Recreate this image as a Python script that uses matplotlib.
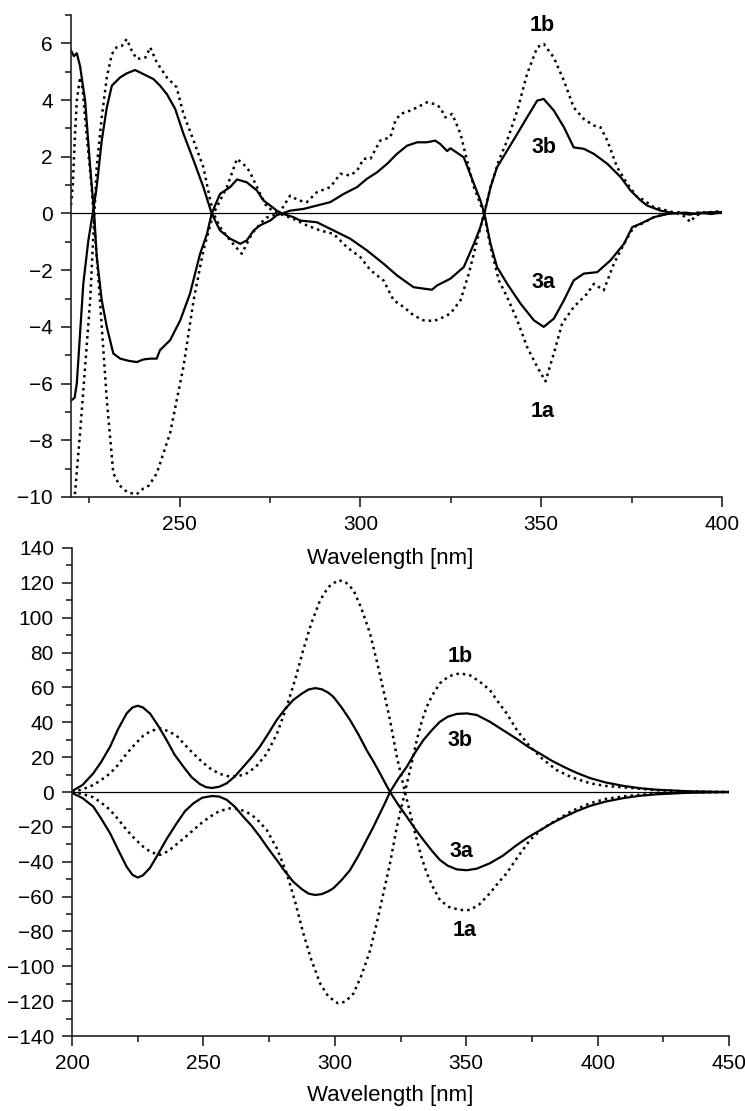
import matplotlib
matplotlib.use('Agg')
import matplotlib.pyplot as plt
from matplotlib.ticker import MultipleLocator

plt.rcParams['font.family'] = ['Liberation Sans', 'DejaVu Sans']

# ---- top panel: measured CD spectra (wavelength nm, value) ----
top_3b = [(220, 5.75), (220.8, 5.55), (221.6, 5.65), (222.5, 5.2), (223.9, 3.98),
          (225.3, 1.63), (226.4, 0.0), (227.1, -1.5), (228.5, -3.06), (229.9, -4.0),
          (231.7, -4.94), (233.6, -5.12), (236, -5.2), (238.2, -5.24), (240, -5.15),
          (241.9, -5.12), (243.7, -5.12), (244.6, -4.82), (247.4, -4.47), (250.2, -3.77),
          (252.9, -2.83), (255.7, -1.42), (257.6, -0.72), (258.9, 0.0), (261.2, 0.69),
          (264, 0.93), (265.9, 1.2), (268.6, 1.1), (271.4, 0.81), (273.2, 0.46),
          (275.1, 0.28), (276.9, 0.1), (278.3, 0.0), (281.5, -0.13), (283.4, -0.25),
          (288, -0.31), (292.6, -0.6), (297.2, -0.89), (301.8, -1.3), (306.4, -1.77),
          (310.1, -2.18), (314.7, -2.6), (317.5, -2.65), (319.8, -2.69), (321.2, -2.54),
          (324.9, -2.3), (328.6, -1.89), (331.4, -1.07), (333.2, -0.48), (334.3, 0.0),
          (336, 0.93), (337.8, 1.63), (340.6, 2.22), (343.4, 2.81), (346.1, 3.39),
          (348.9, 3.98), (350.7, 4.04), (353.5, 3.63), (356.3, 3.04), (359, 2.33),
          (361.8, 2.28), (364.6, 2.1), (368.3, 1.75), (372, 1.28), (374.7, 0.81),
          (377.5, 0.46), (379.3, 0.28), (383, 0.1), (386.7, 0.01), (390, 0.03),
          (393, -0.02), (396, 0.04), (400, 0.05)]

top_3a = [(220, -6.6), (221, -6.5), (221.6, -6.0), (222.5, -4.24), (223.4, -2.48),
          (224.8, -0.95), (226.0, 0.0), (227.1, 0.93), (228.5, 2.57), (229.9, 3.74),
          (231.3, 4.51), (233.6, 4.8), (235.4, 4.94), (237.7, 5.06), (239, 4.98),
          (240.9, 4.86), (242.8, 4.74), (244.6, 4.51), (246.5, 4.21), (248.8, 3.69),
          (251.1, 2.81), (253.9, 1.87), (256.6, 0.93), (258.9, 0.0), (261.2, -0.6),
          (264, -0.89), (266.8, -1.07), (268.6, -0.95), (270.5, -0.6), (272.3, -0.42),
          (273.2, -0.36), (275.1, -0.25), (276.9, -0.06), (278.3, 0.0), (280.6, 0.1),
          (284.3, 0.16), (288, 0.28), (291.7, 0.4), (295.4, 0.69), (299.1, 0.93),
          (301.8, 1.22), (304.6, 1.45), (307.4, 1.75), (310.1, 2.1), (312.9, 2.39),
          (315.7, 2.51), (318.4, 2.51), (320.7, 2.57), (322.1, 2.45), (324, 2.2),
          (324.9, 2.3), (328.6, 1.98), (331.4, 1.05), (333.2, 0.46), (334.3, 0.0),
          (336, -1.07), (337.8, -1.89), (340.6, -2.48), (344.3, -3.18), (348, -3.77),
          (350.7, -4.0), (353.5, -3.71), (356.3, -3.06), (359, -2.36), (361.8, -2.12),
          (365.5, -2.07), (369.2, -1.65), (372.9, -1.07), (375.2, -0.48), (377.5, -0.36),
          (381.2, -0.13), (384.9, -0.02), (388, 0.02), (391, -0.04), (394, 0.03),
          (397, -0.02), (400, 0.04)]

top_1b = [(220, 0.3), (220.5, 1.0), (221, 2.5), (221.6, 3.98), (222.5, 4.8),
          (223.2, 4.4), (224.3, 2.81), (225.7, 0.93), (226.2, 0.0), (227.1, -1.5),
          (228, -3.06), (229.9, -6.58), (231.7, -9.17), (233.5, -9.6), (235.4, -9.81),
          (236.8, -9.87), (238.2, -9.9), (240, -9.7), (241.5, -9.6), (243.7, -9.17),
          (247.4, -7.75), (251.1, -5.4), (253.9, -3.06), (256.6, -1.3), (259.4, 0.0),
          (263.1, 0.93), (265.9, 1.93), (268.6, 1.63), (269.5, 1.45), (272.3, 0.69),
          (274.2, 0.22), (277.5, 0.0), (281.5, -0.19), (285.2, -0.42), (288.9, -0.6),
          (292.6, -0.72), (296.3, -1.19), (300, -1.54), (302.8, -2.0), (306.4, -2.36),
          (309.2, -3.06), (312, -3.3), (314.7, -3.59), (317.5, -3.77), (320.3, -3.79),
          (322.1, -3.71), (324.9, -3.53), (327.7, -3.06), (330, -2.12), (332.3, -0.95),
          (334.2, 0.0), (336, 0.93), (338.3, 1.87), (340.6, 2.57), (343.4, 3.63),
          (346.1, 4.92), (348.9, 5.86), (350.7, 5.98), (353.5, 5.5), (356.3, 4.68),
          (359, 3.74), (361.8, 3.33), (364.6, 3.1), (366.4, 3.04), (368.3, 2.57),
          (371, 1.63), (373.8, 1.05), (376.6, 0.57), (378, 0.5), (381.2, 0.22),
          (384.9, 0.1), (387.7, 0.0), (389.5, -0.1), (391.3, -0.3), (392.5, -0.1),
          (394.1, 0.0), (397, 0.05), (399.5, 0.08), (400, 0.05)]

top_1a = [(220.3, -11.5), (221.1, -9.87), (222.5, -7.75), (223.9, -5.41), (225.3, -3.06),
          (226.2, -0.7), (227.1, 1.63), (228.5, 3.39), (229.9, 4.8), (231.3, 5.62),
          (232.6, 5.86), (234, 5.9), (235.4, 6.15), (236.8, 5.74), (238.2, 5.45),
          (240.6, 5.5), (241.9, 5.86), (243.7, 5.33), (246.5, 4.8), (249.2, 4.45),
          (251.1, 3.51), (253.9, 2.57), (256.6, 1.63), (258.5, 0.46), (259.4, 0.0),
          (261.2, -0.48), (264, -0.95), (267.2, -1.42), (270, -0.72), (272.3, -0.36),
          (274, -0.15), (277.5, 0.0), (280.6, 0.63), (282.9, 0.46), (285.2, 0.4),
          (288, 0.75), (291.7, 0.93), (294.5, 1.4), (297.2, 1.34), (299.1, 1.51),
          (300.9, 1.93), (302.8, 1.93), (305.5, 2.57), (308.3, 2.69), (309.7, 3.27),
          (311.1, 3.51), (313.8, 3.63), (315.7, 3.74), (318.4, 3.92), (320.5, 3.86),
          (322.1, 3.74), (323.5, 3.39), (325.4, 3.51), (327.7, 2.81), (329.5, 1.87),
          (331.4, 0.93), (334.2, 0.0), (336, -1.19), (338.3, -2.36), (340.6, -2.95),
          (343.4, -3.77), (346.1, -4.71), (348.9, -5.41), (351.2, -5.92), (353.5, -4.94),
          (355.8, -3.88), (359, -3.3), (362.7, -2.83), (364.6, -2.48), (367.3, -2.71),
          (370.1, -1.77), (372.9, -1.07), (375.6, -0.48), (377.5, -0.38), (381.2, -0.13),
          (384.9, 0.0), (388, 0.04), (391, -0.03), (394, 0.05), (397, 0.02), (400, 0.06)]

# ---- bottom panel: calculated spectra ----
bot_3a = [(200, 0.5), (204, 4), (208.1, 10.7), (211, 17), (214.5, 26), (217.5, 36),
          (220.8, 45.1), (223, 48.5), (225, 49.5), (227, 48.5), (229.7, 45), (232.8, 38),
          (236, 29.8), (239, 21.5), (242.4, 14.5), (245.5, 8.5), (248.7, 4.5), (251, 2.8),
          (253.2, 2.3), (256, 3), (258.9, 5), (262, 9), (265.2, 14.5), (268.4, 20),
          (271.5, 26), (274.7, 33.5), (277.9, 41.3), (281, 47.5), (284.2, 52.8), (287.5, 56.5),
          (290, 58.8), (292.5, 59.6), (295, 59), (297.5, 57), (299.4, 54.7), (302.6, 48.5),
          (305.8, 41.3), (309, 33), (312.1, 24.1), (314.7, 17.5), (317.2, 10.7), (319.2, 5),
          (321, 0), (324, -7), (327.4, -14.2), (330.5, -21), (333.7, -27.5), (337, -33.8),
          (340, -39), (343, -42.3), (346.4, -44.4), (350.2, -44.9), (354, -44), (359, -40.9),
          (364, -36.5), (369.2, -30.5), (373.5, -26), (378.1, -22), (382.5, -18), (387, -14.5),
          (392, -11), (397.1, -8), (403, -5.5), (409.8, -3.5), (416, -2.2), (422.5, -1.3),
          (435, -0.4), (450, 0)]

bot_3b = [(200, -0.5), (204, -3.5), (208.1, -8.4), (211, -15), (214.5, -23.7), (217.5, -33),
          (220.8, -42.9), (223, -47.5), (225, -49.1), (227, -47.8), (229.7, -43.5), (232.2, -37.1),
          (236, -27), (239.8, -18), (243, -11), (246.2, -6.5), (249.5, -3.3), (253.2, -2.3),
          (256, -2.6), (258.9, -4.5), (262, -8.5), (265.2, -14.2), (268.4, -19.5), (271.5, -25.6),
          (274.7, -32.5), (277.9, -39), (281, -45.5), (284.2, -51.5), (287.5, -55.8), (290, -58.3),
          (292.5, -59.1), (295, -58.6), (297.5, -57), (299.4, -55.3), (302.6, -50.5), (305.8, -44.8),
          (309, -36.5), (312.1, -27.5), (314.7, -20), (317.2, -12.2), (319.2, -6), (321, 0),
          (324, 7.3), (327.4, 14.5), (330.5, 22.5), (333.7, 29.8), (337, 35.6), (340, 40.3),
          (343, 43.2), (346.4, 44.8), (350.2, 45.1), (354, 44.2), (359, 40.3), (364, 35.5),
          (369.2, 30.5), (373.5, 26), (378.1, 22), (382.5, 18), (387, 14.5), (392, 11),
          (397.1, 8), (403, 5.5), (409.8, 3.5), (416, 2.2), (422.5, 1.3), (435, 0.4), (450, 0)]

bot_1a = [(200, 0), (204, 1.5), (208.1, 4), (211, 6.8), (214.5, 10.7), (217.5, 15.5),
          (220.8, 22), (224, 27.5), (227.1, 32.3), (230, 35), (233.5, 36.5), (236.5, 35),
          (239.8, 32.3), (243, 27), (246.2, 22), (249.5, 17.3), (252.5, 13.6), (256, 10.5),
          (260.1, 8.8), (263.5, 9.2), (266.5, 10.7), (270, 14.5), (274.1, 22), (278, 33.5),
          (281.7, 49), (285, 65), (288, 81.5), (291, 96.5), (294.4, 110), (297.5, 117.5),
          (301.3, 121.6), (304, 120.5), (307.1, 115.9), (310.2, 105), (313.4, 91), (316, 75),
          (318.5, 58.5), (321, 41.3), (323.6, 20.3), (326.7, 0), (329, -14), (331.2, -27.5),
          (333, -37.5), (335, -46.6), (337.5, -55), (340, -62), (343.5, -66), (347.6, -67.7),
          (351.4, -67.7), (355, -64.5), (359, -58.1), (362, -52.5), (365.4, -46.6), (369.5, -37.5),
          (374.3, -27.5), (379, -21), (384.4, -16.1), (390, -11), (397.1, -6.5), (403, -4),
          (409.8, -2.5), (422.5, -0.8), (435, -0.3), (450, 0)]

bot_1b = [(200, 0), (204, -1.2), (208.1, -3), (211, -6), (214.5, -10.3), (217.5, -15.5),
          (220.8, -21.8), (224, -27), (227.1, -31.4), (230, -34.5), (233.5, -36.1), (236.5, -34),
          (239.8, -30), (243, -26), (246.2, -21.8), (249.5, -17.5), (252.5, -14.2), (256, -11),
          (260.1, -9.4), (263.5, -9.8), (266.5, -11.5), (270, -15), (274.1, -21.8), (278, -32.5),
          (281.7, -46.6), (285, -63.5), (288, -81), (291, -96), (294.4, -109.8), (297.5, -117.3),
          (301.3, -121.3), (304, -120.3), (307.1, -115.6), (310.2, -105), (313.4, -91), (316, -75),
          (318.5, -58), (321, -41), (323.6, -20), (326.7, 0), (329, 15), (331.2, 29.8),
          (333, 40), (335, 49), (337.5, 56.5), (340, 62.4), (343.5, 66.5), (347.6, 68.1),
          (351.4, 67), (355, 63.5), (359, 58.5), (362, 52), (365.4, 45.1), (369.5, 35),
          (374.3, 26), (379, 19), (384.4, 12.6), (390, 8.5), (397.1, 5), (403, 3.5),
          (409.8, 2.7), (422.5, 1), (435, 0.3), (450, 0)]

# label positions (wavelength, value)
top_labels = [('1b', 350.3, 6.62), ('3b', 350.7, 2.33), ('3a', 350.7, -2.42), ('1a', 350.3, -7.0)]
bot_labels = [('1b', 347.6, 77.6), ('3b', 347.6, 29.8), ('3a', 348.2, -34.2), ('1a', 349.4, -79.2)]

solid = dict(color='black', lw=1.6, ls='-', solid_joinstyle='round')
dotted = dict(color='black', lw=1.8, ls=(0, (1, 1.6)), dash_capstyle='butt')


def style_axes(ax):
    for s in ['top', 'right']:
        ax.spines[s].set_visible(False)
    for s in ['left', 'bottom']:
        ax.spines[s].set_linewidth(1.2)
        ax.spines[s].set_color('#222222')
    ax.tick_params(which='both', direction='out', top=False, right=False,
                   width=1.2, color='#222222', labelsize=15, pad=6)
    ax.tick_params(which='major', length=7)
    ax.tick_params(which='minor', length=4.5)
    ax.axhline(0, color='black', lw=0.9, zorder=1)


fig = plt.figure(figsize=(7.45, 11.11), dpi=100)

ax1 = fig.add_axes([71 / 745, 1 - 497 / 1111, 651 / 745, 482 / 1111])
for data, st in [(top_3b, solid), (top_3a, solid), (top_1b, dotted), (top_1a, dotted)]:
    x, y = zip(*data)
    ax1.plot(x, y, **st)
ax1.set_xlim(220, 400)
ax1.set_ylim(-10, 7)
ax1.xaxis.set_major_locator(MultipleLocator(50))
ax1.xaxis.set_minor_locator(MultipleLocator(25))
ax1.yaxis.set_major_locator(MultipleLocator(2))
ax1.yaxis.set_minor_locator(MultipleLocator(1))
style_axes(ax1)
ax1.set_xlabel('Wavelength [nm]', fontsize=16)
ax1.xaxis.set_label_coords(0.49, -0.105)
for txt, xx, yy in top_labels:
    ax1.text(xx, yy, txt, fontsize=15.5, fontweight='bold', ha='center', va='center')

ax2 = fig.add_axes([72 / 745, 1 - 1036 / 1111, 657 / 745, 488 / 1111])
ax2.patch.set_visible(False)
for data, st in [(bot_3a, solid), (bot_3b, solid), (bot_1a, dotted), (bot_1b, dotted)]:
    x, y = zip(*data)
    ax2.plot(x, y, **st)
ax2.set_xlim(200, 450)
ax2.set_ylim(-140, 140)
ax2.xaxis.set_major_locator(MultipleLocator(50))
ax2.xaxis.set_minor_locator(MultipleLocator(25))
ax2.yaxis.set_major_locator(MultipleLocator(20))
ax2.yaxis.set_minor_locator(MultipleLocator(10))
style_axes(ax2)
ax2.set_xlabel('Wavelength [nm]', fontsize=16)
ax2.xaxis.set_label_coords(0.485, -0.1)
for txt, xx, yy in bot_labels:
    ax2.text(xx, yy, txt, fontsize=15.5, fontweight='bold', ha='center', va='center')

fig.savefig('out.png', dpi=100)
